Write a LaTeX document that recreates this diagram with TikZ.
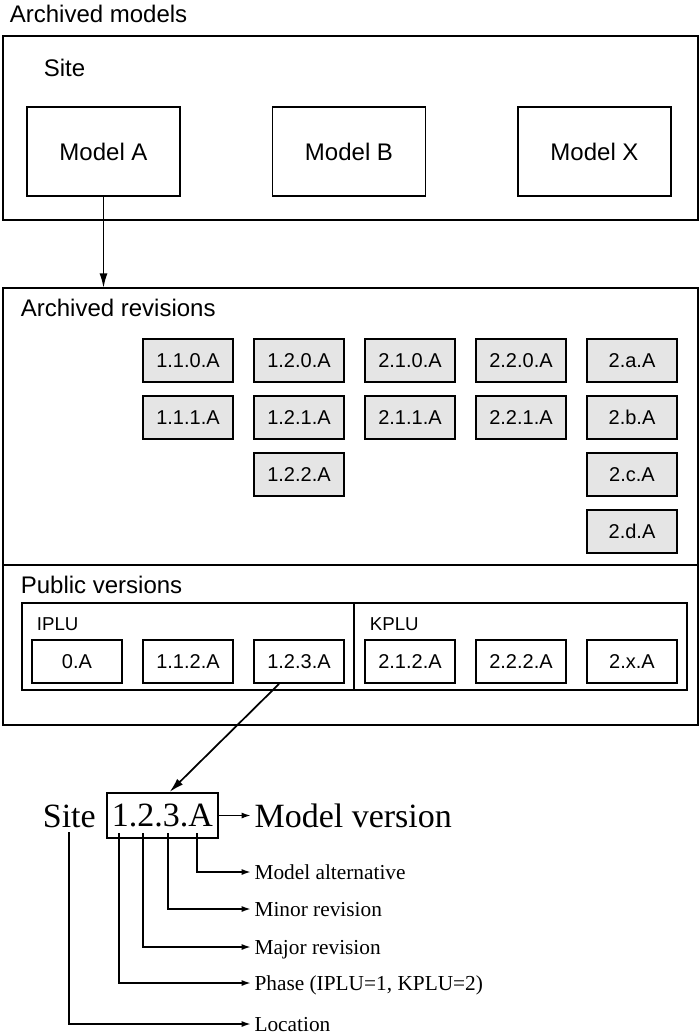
\documentclass[tikz,border=0pt]{standalone}
\usepackage{fontspec}
\setmainfont{Liberation Serif}
\setsansfont{Liberation Sans}
\usetikzlibrary{arrows.meta,calc}
\tikzset{
  modelbox/.style={draw, line width=1.4pt, minimum width=114.75pt, minimum height=66.75pt, font=\sffamily\fontsize{18}{18}\selectfont},
  revbox/.style={draw, line width=1.4pt, fill=black!10, minimum width=67.5pt, minimum height=32.25pt, font=\sffamily\fontsize{15}{15}\selectfont},
  pubbox/.style={revbox, fill=white},
  headtext/.style={anchor=base west, inner sep=0pt, font=\sffamily\fontsize{18}{18}\selectfont},
  grouptext/.style={headtext, font=\sffamily\fontsize{14}{14}\selectfont},
  bigtext/.style={inner sep=0pt, font=\fontsize{25.5}{25.5}\selectfont},
  partlabel/.style={anchor=west, inner ysep=0pt, inner xsep=2pt, text height=11pt, text depth=0pt, font=\fontsize{16}{16}\selectfont},
  arr/.style={-{Latex[length=7pt,width=4.5pt]}},
  bigarr/.style={-{Latex[length=11pt,width=6pt]}},
  frame/.style={line width=1.8pt}
}
\begin{document}
\begin{tikzpicture}[x=0.75pt, y=-0.75pt, line width=1.3pt]
  \useasboundingbox (0,0) rectangle (699,1034);
  % archived models
  \node[headtext] (tmodels) at (9,23) {Archived models};
  \draw[frame] (3,36) rectangle (698,220);
  \node[headtext] (tsite) at (43,77) {Site};
  \node[modelbox] (ma) at (103.5,151.5) {Model A};
  \node[modelbox] (mb) at (349,151.5) {Model B};
  \node[modelbox] (mx) at (594.5,151.5) {Model X};
  \coordinate (revtop) at (103.5,288);
  \draw[bigarr] (ma) -- (revtop);
  % archived revisions
  \draw[frame] (3,288) rectangle (698,725);
  \draw[frame] (3,565) -- (698,565);
  \node[headtext] (trevs) at (20,316) {Archived revisions};
  \foreach \lab/\c/\r in {1.1.0.A/1/1, 1.1.1.A/1/2, 1.2.0.A/2/1, 1.2.1.A/2/2, 1.2.2.A/2/3,
                          2.1.0.A/3/1, 2.1.1.A/3/2, 2.2.0.A/4/1, 2.2.1.A/4/2,
                          2.a.A/5/1, 2.b.A/5/2, 2.c.A/5/3, 2.d.A/5/4}
    \node[revbox] (rev\c\r) at ({77+111*\c},{303.5+57*\r}) {\lab};
  % public versions
  \node[headtext] (tpublic) at (20,593) {Public versions};
  \draw[frame] (22,603) rectangle (687,690);
  \draw[frame] (354,603) -- (354,690);
  \node[grouptext] (tiplu) at (36,630) {IPLU};
  \node[grouptext] (tkplu) at (369,630) {KPLU};
  \foreach \lab/\c in {0.A/0, 1.1.2.A/1, 1.2.3.A/2, 2.1.2.A/3, 2.2.2.A/4, 2.x.A/5}
    \node[pubbox] (pub\c) at ({77+111*\c},661.5) {\lab};
  % the version number
  \node[bigtext, anchor=base west] (site) at (42,827) {Site};
  \node[bigtext, draw, line width=1.4pt, minimum width=83.25pt, minimum height=33.75pt] (ver) at (162.5,815.5) {1.2.3.A};
  \node[bigtext, anchor=west, inner xsep=2pt] (mv) at (251,815.5) {Model version};
  \draw[bigarr] ($(pub2.south)+(-20,0)$) -- ($(ver.north)+(7,0)$);
  \draw[arr] (ver) -- (mv);
  \coordinate (dalt) at (197,833);
  \coordinate (dmin) at (168,833);
  \coordinate (dmaj) at (143,833);
  \coordinate (dpha) at (119,833);
  \coordinate (dloc) at (69,832);
  \node[partlabel] (lalt) at (251,872) {Model alternative};
  \node[partlabel] (lmin) at (251,909) {Minor revision};
  \node[partlabel] (lmaj) at (251,947) {Major revision};
  \node[partlabel] (lpha) at (251,983) {Phase (IPLU=1, KPLU=2)};
  \node[partlabel] (lloc) at (251,1024) {Location};
  \draw[arr] (dalt) |- (lalt);
  \draw[arr] (dmin) |- (lmin);
  \draw[arr] (dmaj) |- (lmaj);
  \draw[arr] (dpha) |- (lpha);
  \draw[arr] (dloc) |- (lloc);
\end{tikzpicture}
\end{document}
